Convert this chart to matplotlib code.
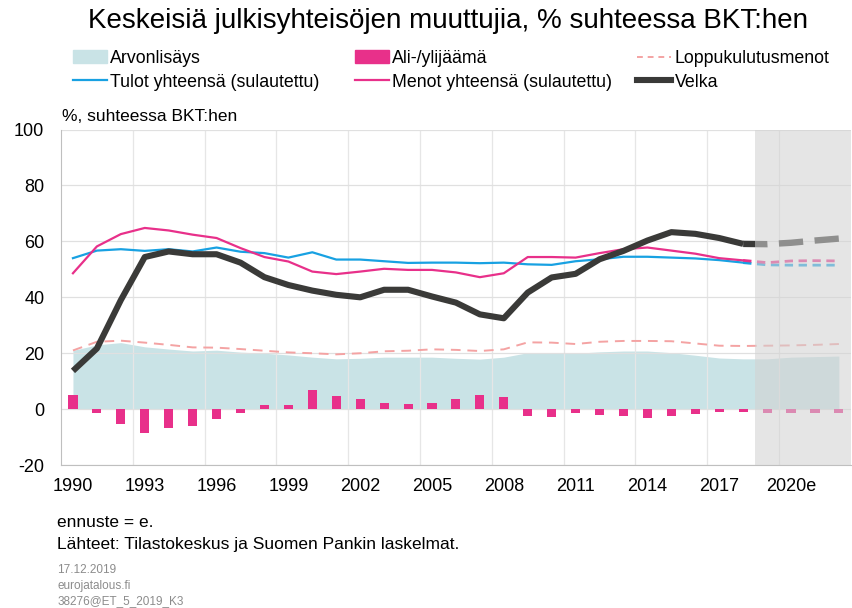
import numpy as np
import matplotlib.pyplot as plt
from matplotlib.patches import Patch
from matplotlib.lines import Line2D

plt.rcParams['font.family'] = ['Liberation Sans', 'DejaVu Sans']
plt.rcParams['axes.unicode_minus'] = False

vuodet = list(range(1990, 2023))
ennuste_vuodet = [2018, 2019, 2020, 2021, 2022]

arvonlisays = [21.0, 23.0, 23.8, 22.3, 21.5, 20.8, 21.1, 20.4, 20.0, 19.4, 18.6, 18.0, 18.2,
               18.6, 18.6, 18.6, 18.2, 17.9, 18.6, 20.2, 20.0, 20.0, 20.5, 20.8, 20.8, 20.2,
               19.3, 18.3, 18.0, 18.0, 18.6, 18.8, 19.0]
loppukulutus = [21.0, 24.1, 24.5, 23.8, 23.0, 22.1, 22.0, 21.5, 20.9, 20.3, 20.0, 19.6, 20.0,
                20.7, 20.9, 21.4, 21.2, 20.8, 21.4, 23.9, 23.8, 23.3, 24.1, 24.4, 24.4, 24.3,
                23.5, 22.7, 22.6, 22.7, 22.8, 23.0, 23.3]
alijaama = [5.0, -1.2, -5.4, -8.4, -6.6, -6.1, -3.4, -1.5, 1.4, 1.4, 6.8, 4.8, 3.8, 2.3, 1.9,
            2.3, 3.8, 5.0, 4.2, -2.5, -2.7, -1.2, -2.2, -2.5, -3.1, -2.5, -1.9, -0.9, -0.9,
            -1.2, -1.5, -1.5, -1.5]

# toteutunut 1990-2018
tulot = [54.0, 56.7, 57.2, 56.6, 57.2, 56.4, 57.8, 56.3, 55.8, 54.2, 56.1, 53.5, 53.5, 52.9,
         52.3, 52.4, 52.4, 52.2, 52.4, 51.8, 51.6, 52.9, 53.6, 54.5, 54.5, 54.2, 53.9, 53.3, 52.4]
menot = [48.6, 58.2, 62.6, 64.8, 63.9, 62.4, 61.2, 57.6, 54.4, 52.8, 49.2, 48.3, 49.2, 50.2,
         49.8, 49.8, 48.9, 47.2, 48.6, 54.4, 54.4, 54.2, 55.8, 57.2, 57.8, 56.7, 55.6, 54.0, 53.2]
velka = [13.7, 21.7, 39.0, 54.4, 56.4, 55.4, 55.4, 52.4, 47.2, 44.4, 42.4, 40.9, 40.0, 42.7,
         42.7, 40.3, 38.1, 33.9, 32.5, 41.7, 47.1, 48.4, 53.6, 56.6, 60.3, 63.3, 62.7, 61.2, 59.1]

# ennuste 2018-2022
tulot_e = [52.4, 51.6, 51.5, 51.5, 51.5]
menot_e = [53.2, 52.4, 53.0, 53.1, 53.0]
velka_e = [59.1, 59.0, 59.5, 60.3, 61.0]

tick_labels = ['1990', '1993', '1996', '1999', '2002', '2005', '2008', '2011', '2014', '2017', '2020e']

pinkki = '#E8308A'
sininen = '#18A1E2'
musta = '#3A3A38'
turkoosi = '#C9E3E6'
lohi = '#F4A3A3'

x = np.arange(len(vuodet))
x_tot = x[:len(tulot)]
x_e = np.array([vuodet.index(v) for v in ennuste_vuodet])

fig = plt.figure(figsize=(8.53, 6.08), dpi=100)
ax = fig.add_axes([0.0715, 0.235, 0.926, 0.552])

ax.fill_between(x, 0, arvonlisays, color=turkoosi, linewidth=0, zorder=1)
ax.bar(x, alijaama, width=0.38, color=pinkki, zorder=2)
ax.plot(x, loppukulutus, color=lohi, lw=1.4, dashes=(5, 3.5), zorder=3)
ax.plot(x_tot, tulot, color=sininen, lw=1.6, zorder=4)
ax.plot(x_tot, menot, color=pinkki, lw=1.6, zorder=4)
ax.plot(x_tot, velka, color=musta, lw=4.4, solid_capstyle='butt', zorder=5)
ax.plot(x_e, tulot_e, color=sininen, lw=2, dashes=(3, 2), zorder=4)
ax.plot(x_e, menot_e, color=pinkki, lw=2, dashes=(3, 2), zorder=4)
ax.plot(x_e, velka_e, color=musta, lw=4.6, dashes=(3.8, 1.8), zorder=5)

# ennustealue
ax.axvspan(28.5, 32.5, color='#D2D2D2', alpha=0.56, lw=0, zorder=10)

ax.set_xlim(-0.5, 32.5)
ax.set_ylim(-20, 100)
ax.set_yticks(range(-20, 101, 20))
ax.set_xticks(range(0, 33, 3))
ax.set_xticklabels(tick_labels)
ax.set_xticks(np.arange(2.5, 32, 3), minor=True)
ax.tick_params(axis='both', which='both', length=0, labelsize=13, colors='black')
ax.tick_params(axis='y', pad=12)
ax.tick_params(axis='x', pad=9)
ax.grid(axis='y', color='#E0E0E0', lw=0.9, zorder=0)
ax.grid(axis='x', which='minor', color='#E6E6E6', lw=0.9, zorder=0)
for s in ['top', 'right']:
    ax.spines[s].set_visible(False)
for s in ['left', 'bottom']:
    ax.spines[s].set_color('#BFBFBF')

fig.text(0.525, 0.966, 'Keskeisiä julkisyhteisöjen muuttujia, % suhteessa BKT:hen',
         ha='center', va='center', fontsize=20)
fig.text(0.073, 0.809, '%, suhteessa BKT:hen', fontsize=12.5, va='center')

# legenda kolmessa sarakkeessa
sarakkeet = [
    ([Patch(color=turkoosi), Line2D([], [], color=sininen, lw=1.6)],
     ['Arvonlisäys', 'Tulot yhteensä (sulautettu)'], 0.0856),
    ([Patch(color=pinkki), Line2D([], [], color=pinkki, lw=1.6)],
     ['Ali-/ylijäämä', 'Menot yhteensä (sulautettu)'], 0.416),
    ([Line2D([], [], color=lohi, lw=1.4, dashes=(3, 2.5)), Line2D([], [], color=musta, lw=4.4)],
     ['Loppukulutusmenot', 'Velka'], 0.747),
]
for h, l, xp in sarakkeet:
    leg = fig.legend(h, l, loc='upper left', bbox_to_anchor=(xp, 0.918), frameon=False,
                     fontsize=12.8, handlelength=1.9, handletextpad=0.2, labelspacing=0.38,
                     borderpad=0, borderaxespad=0)

fig.text(0.067, 0.141, 'ennuste = e.', fontsize=12.5, va='center')
fig.text(0.067, 0.105, 'Lähteet: Tilastokeskus ja Suomen Pankin laskelmat.', fontsize=12.5, va='center')
fig.text(0.067, 0.062, '17.12.2019', fontsize=8.5, color='#8C8C8C', va='center')
fig.text(0.067, 0.037, 'eurojatalous.fi', fontsize=8.5, color='#8C8C8C', va='center')
fig.text(0.067, 0.012, '38276@ET_5_2019_K3', fontsize=8.5, color='#8C8C8C', va='center')

plt.savefig('out.png', dpi=100)
